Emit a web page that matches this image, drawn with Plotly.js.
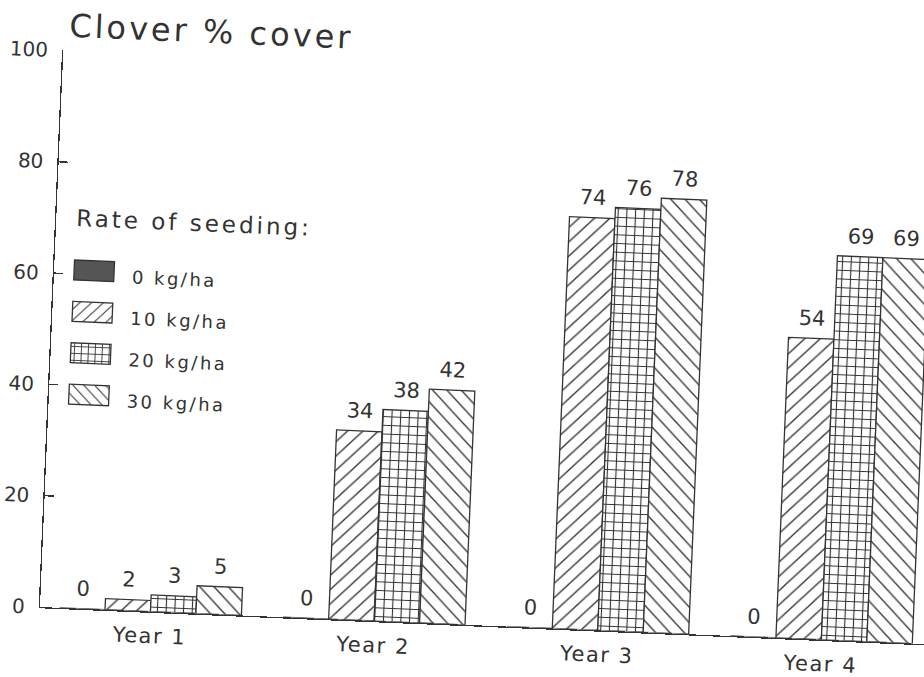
<!DOCTYPE html>
<html>
<head>
<meta charset="utf-8">
<script src="https://cdn.plot.ly/plotly-3.0.1.min.js"></script>
<style>
html, body { margin:0; padding:0; background:#fff; overflow:hidden; width:924px; height:677px; }
#chart { position:absolute; left:-30px; top:0; width:1040px; height:677px;
         transform-origin:70px 607px; transform:rotate(2.4deg); }
.gtitle { letter-spacing:3px; }
.legendtext { letter-spacing:2.5px; }
.legendtitletext { letter-spacing:3px; }
#chart .xtick text { letter-spacing:1.5px; }
#chart text.bartext { translate:0px -5px; }
</style>
</head>
<body>
<div id="chart"></div>
<script>
// ---- data ----
const years = ['Year 1', 'Year 2', 'Year 3', 'Year 4'];
const seedingRates = ['0 kg/ha', '10 kg/ha', '20 kg/ha', '30 kg/ha'];
const cover0kg  = [0, 0, 0, 0];
const cover10kg = [2, 34, 74, 54];
const cover20kg = [3, 38, 76, 69];
const cover30kg = [5, 42, 78, 69];
const yTickValues = [0, 20, 40, 60, 80, 100];

// ---- styling ----
const INK = '#333';
const FONT = 'DejaVu Sans, Liberation Sans, sans-serif';
const seriesValues = [cover0kg, cover10kg, cover20kg, cover30kg];
const seriesStyle = [
  { color: '#555', pattern: null },
  { color: '#fff', pattern: { shape: '/', size: 10.5, solidity: 0.13 } },
  { color: '#fff', pattern: { shape: '+', size: 8.7, solidity: 0.24 } },
  { color: '#fff', pattern: { shape: '\\', size: 10.5, solidity: 0.13 } }
];

const data = seedingRates.map((name, i) => {
  const st = seriesStyle[i];
  const marker = { color: st.color, line: { color: INK, width: 1.3 } };
  if (st.pattern) {
    marker.pattern = Object.assign({ fgcolor: INK, bgcolor: '#fff', fillmode: 'replace' }, st.pattern);
  }
  return {
    type: 'bar',
    name: name,
    legendgroup: name,
    x: years,
    y: seriesValues[i],
    marker: marker,
    texttemplate: '%{y}',
    textposition: 'outside',
    textfont: { family: FONT, size: 21, color: INK },
    constraintext: 'none',
    cliponaxis: false,
    hoverinfo: 'skip'
  };
});

const PLOT_TOP = 49.5, PLOT_BOTTOM = 607, PLOT_H = PLOT_BOTTOM - PLOT_TOP;

const layout = {
  width: 1040,
  height: 677,
  margin: { l: 70, r: 40, t: PLOT_TOP, b: 677 - PLOT_BOTTOM },
  paper_bgcolor: '#fff',
  plot_bgcolor: '#fff',
  font: { family: FONT, color: INK },
  barmode: 'group',
  bargap: 0.187,
  bargroupgap: 0,
  showlegend: true,
  title: {
    text: 'Clover % cover',
    font: { family: FONT, size: 32, color: INK },
    xref: 'container', yref: 'container',
    x: 75 / 1040, xanchor: 'left',
    y: 1 - 36 / 677, yanchor: 'bottom'
  },
  xaxis: {
    type: 'category',
    range: [-0.494, 3.661],
    showline: true, linecolor: INK, linewidth: 1.3,
    ticks: '', showgrid: false, zeroline: false,
    tickfont: { family: FONT, size: 21, color: INK },
    ticklabelstandoff: 5,
    fixedrange: true
  },
  yaxis: {
    range: [0, 100],
    tickvals: yTickValues,
    ticks: 'inside', ticklen: 9, tickwidth: 1.3, tickcolor: INK,
    showline: true, linecolor: INK, linewidth: 1.3,
    showgrid: false, zeroline: false,
    tickfont: { family: FONT, size: 20, color: INK },
    ticklabelstandoff: 10,
    fixedrange: true
  },
  legend: {
    x: 18 / 930, xanchor: 'left',
    y: (PLOT_BOTTOM - 194.5) / PLOT_H, yanchor: 'top',
    bgcolor: 'rgba(0,0,0,0)',
    borderwidth: 0,
    title: { text: 'Rate of seeding:<br>\u00a0', font: { family: FONT, size: 23, color: INK } },
    font: { family: FONT, size: 18, color: INK },
    itemwidth: 50,
    traceorder: 'grouped',
    tracegroupgap: 15
  }
};

Plotly.newPlot('chart', data, layout, { staticPlot: true, displayModeBar: false }).then(function (gd) {
  // wider, flatter legend keys like the original
  gd.querySelectorAll('.legend .legendpoints path').forEach(function (p) {
    p.setAttribute('d', 'M12,6H-28V-14H12Z');
  });
});
</script>
</body>
</html>
